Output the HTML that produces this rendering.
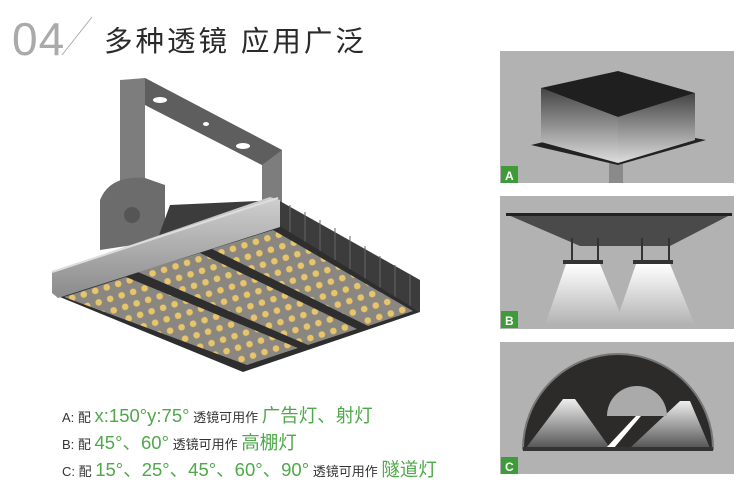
<!DOCTYPE html>
<html><head><meta charset="utf-8"><style>
body{margin:0;width:750px;height:491px;background:#fff;position:relative;overflow:hidden;font-family:"Liberation Sans","Noto Sans CJK SC",sans-serif}
.t{position:absolute;white-space:nowrap}
.g{color:#4fa84a;font-size:18.5px}
.d{color:#333;font-size:13px}
</style></head><body>
<svg width="750" height="491" style="position:absolute;left:0;top:0">
<defs>
<pattern id="led" width="12" height="12" patternUnits="userSpaceOnUse" patternTransform="rotate(-17)">
<rect width="12" height="12" fill="#8a8680"/>
<circle cx="6" cy="6" r="3.3" fill="#e8c46a"/>
</pattern>
<linearGradient id="rail" x1="0" y1="0" x2="0" y2="1"><stop offset="0" stop-color="#d0d0d0"/><stop offset="1" stop-color="#8a8a8a"/></linearGradient>
<linearGradient id="cone" x1="0" y1="0" x2="0" y2="1"><stop offset="0" stop-color="#fff"/><stop offset="1" stop-color="#b2b2b2"/></linearGradient>
<linearGradient id="skirt" x1="0" y1="0" x2="0" y2="1"><stop offset="0" stop-color="#444"/><stop offset="1" stop-color="#ddd"/></linearGradient>
<linearGradient id="tl" x1="0" y1="0" x2="0" y2="1"><stop offset="0" stop-color="#eee"/><stop offset="1" stop-color="#555"/></linearGradient>
</defs>
<text x="12" y="55" font-family="Liberation Sans" font-size="46" fill="#aaa" letter-spacing="1">04</text>
<line x1="62" y1="55" x2="92" y2="17" stroke="#aaa" stroke-width="1"/>
<polygon points="120,80 145,78 282,150 282,205 262,205 262,165 145,105 145,230 120,230" fill="#7d7d7d"/>
<polygon points="145,78 282,150 262,165 145,105" fill="#5e5e5e"/>
<ellipse cx="160" cy="100" rx="7" ry="3" fill="#fff"/><ellipse cx="206" cy="124" rx="3" ry="2" fill="#fff"/><ellipse cx="243" cy="146" rx="7" ry="3" fill="#fff"/>
<path d="M100,250 L100,200 Q110,175 145,178 L165,185 L165,240 Z" fill="#6c6c6c"/>
<circle cx="132" cy="215" r="8" fill="#555"/>
<polygon points="170,205 278,200 420,280 420,312 278,230 150,260" fill="#3c3c3c"/>
<g stroke="#666" stroke-width="1">
<line x1="290" y1="205" x2="290" y2="240"/><line x1="305" y1="212" x2="305" y2="248"/><line x1="320" y1="220" x2="320" y2="257"/><line x1="335" y1="228" x2="335" y2="266"/><line x1="350" y1="236" x2="350" y2="275"/><line x1="365" y1="246" x2="365" y2="284"/><line x1="380" y1="256" x2="380" y2="292"/><line x1="395" y1="265" x2="395" y2="300"/><line x1="410" y1="274" x2="410" y2="306"/>
</g>
<polygon points="55,295 278,225 420,312 243,372" fill="#2e2e2e"/>
<polygon points="64,297 126,277 298,348 247,365" fill="url(#led)"/>
<polygon points="138,272 200,253 357,329 308,345" fill="url(#led)"/>
<polygon points="212,249 273,230 413,311 368,326" fill="url(#led)"/>
<polygon points="52,272 270,197 280,200 280,227 58,298 52,293" fill="url(#rail)"/>
<line x1="52" y1="272" x2="278" y2="198" stroke="#ddd" stroke-width="2"/>
<!-- panel A -->
<rect x="500" y="51" width="234" height="132" fill="#b2b2b2"/>
<rect x="609" y="152" width="14" height="31" fill="#8a8a8a"/>
<polygon points="531,145 618,165 706,140 618,124" fill="#222"/>
<polygon points="541,88 541,142 618,163 618,117" fill="url(#skirt)"/>
<polygon points="618,117 618,163 695,140 695,93" fill="url(#skirt)"/>
<polygon points="541,88 618,71 695,93 618,117" fill="#1f1f1f"/>
<rect x="501" y="166" width="17" height="17" fill="#3f9a3a"/>
<text x="505" y="180" font-size="12" font-weight="bold" fill="#fff">A</text>
<!-- panel B -->
<rect x="500" y="196" width="234" height="133" fill="#b2b2b2"/>
<polygon points="566,264 600,264 625,325 545,325" fill="url(#cone)"/>
<polygon points="636,264 670,264 695,325 615,325" fill="url(#cone)"/>
<polygon points="506,214 732,214 670,246 580,246" fill="#4a4a4a"/>
<rect x="506" y="213" width="226" height="3" fill="#222"/>
<rect x="563" y="260" width="40" height="4" fill="#333"/><rect x="633" y="260" width="40" height="4" fill="#333"/>
<rect x="571" y="238" width="2" height="22" fill="#333"/><rect x="597" y="238" width="2" height="22" fill="#333"/><rect x="641" y="238" width="2" height="22" fill="#333"/><rect x="668" y="238" width="2" height="22" fill="#333"/>
<rect x="501" y="311" width="17" height="17" fill="#3f9a3a"/>
<text x="505" y="325" font-size="12" font-weight="bold" fill="#fff">B</text>
<!-- panel C -->
<rect x="500" y="342" width="234" height="132" fill="#b2b2b2"/>
<path d="M523,449 A95,95 0 0 1 713,449 Z" fill="#2d2b2a" stroke="#777" stroke-width="2"/>
<polygon points="563,399 575,399 610,448 526,448" fill="url(#tl)"/>
<polygon points="680,401 690,401 710,448 630,448" fill="url(#tl)"/>
<path d="M607,416 A30,30 0 0 1 667,416 Z" fill="#aaa"/>
<polygon points="636,416 641,416 614,448 606,448" fill="#fff"/>
<rect x="523" y="447" width="190" height="4" fill="#333"/>
<rect x="501" y="457" width="17" height="17" fill="#3f9a3a"/>
<text x="505" y="471" font-size="12" font-weight="bold" fill="#fff">C</text>
</svg>
<div class="t" style="left:104px;top:19px;font-size:28.5px;color:#2a2a2a;letter-spacing:3px">多种透镜 应用广泛</div>
<div class="t" style="left:62px;top:402px"><span class="d">A: 配 </span><span class="g">x:150°y:75°</span><span class="d"> 透镜可用作 </span><span class="g">广告灯、射灯</span></div>
<div class="t" style="left:62px;top:429px"><span class="d">B: 配 </span><span class="g">45°、60°</span><span class="d"> 透镜可用作 </span><span class="g">高棚灯</span></div>
<div class="t" style="left:62px;top:456px"><span class="d">C: 配 </span><span class="g">15°、25°、45°、60°、90°</span><span class="d"> 透镜可用作 </span><span class="g">隧道灯</span></div>
</body></html>
